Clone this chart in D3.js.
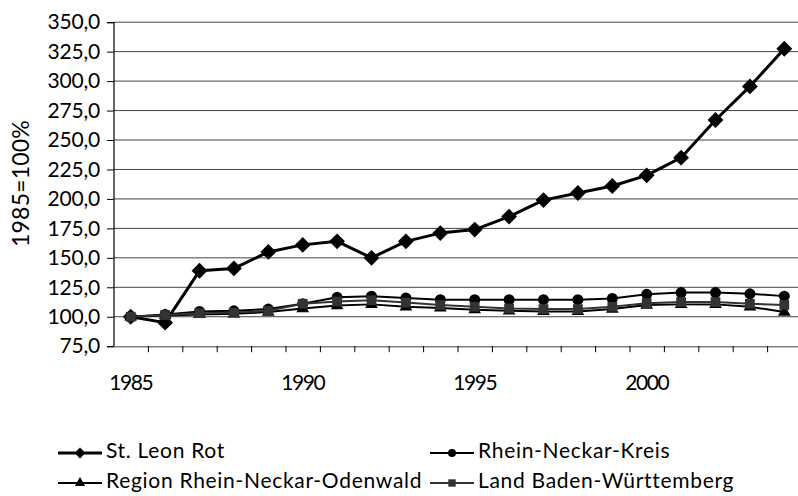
<!DOCTYPE html>
<html>
<head>
<meta charset="utf-8">
<script src="https://cdn.jsdelivr.net/npm/d3@7"></script>
<style>
  html, body { margin: 0; padding: 0; background: #fff; }
  svg { display: block; }
  text { font-family: Lato, "Open Sans", sans-serif; fill: #000; }
</style>
</head>
<body>
<svg id="chart" width="798" height="496"></svg>
<script>
// Population index, 1985 = 100 %
const years = ["1985","1986","1987","1988","1989","1990","1991","1992","1993","1994",
               "1995","1996","1997","1998","1999","2000","2001","2002","2003","2004"];
const stLeonRot        = [100, 95, 139, 141, 155, 161, 164, 150, 164, 171, 174, 185, 199, 205, 211, 220, 235, 267, 295.5, 327.5];
const rheinNeckarKreis = [100, 102, 104.5, 105, 106.5, 111, 116.5, 117.5, 116, 114.5, 114.5, 114.5, 114.5, 114.5, 115.5, 119, 120.5, 120.5, 119.5, 117.5];
const regionRNO        = [100, 101, 102, 102.5, 104, 107, 109.5, 110.5, 108.5, 107.5, 106, 105, 104.5, 104.5, 106.5, 110, 110.5, 110.5, 108.5, 104];
const landBW           = [100, 101.5, 103, 103.5, 105, 111, 113, 114, 112, 110, 108.5, 107, 106.5, 106.5, 108.5, 111.5, 112.5, 112.5, 111, 110];
const yTicks = [75, 100, 125, 150, 175, 200, 225, 250, 275, 300, 325, 350];
const xTickLabels = ["1985", "1990", "1995", "2000"];
const yTitle = "1985=100%";

const seriesList = [
  { name: "St. Leon Rot", values: stLeonRot, symbol: d3.symbolDiamond2, size: 160, lsize: 75, color: "#000", fill: "#000", width: 3 },
  { name: "Rhein-Neckar-Kreis", values: rheinNeckarKreis, symbol: d3.symbolCircle, size: 95, lsize: 50, color: "#000", fill: "#000", width: 2 },
  { name: "Region Rhein-Neckar-Odenwald", values: regionRNO, symbol: d3.symbolTriangle, size: 70, lsize: 45, color: "#000", fill: "#000", width: 2 },
  { name: "Land Baden-Württemberg", values: landBW, symbol: d3.symbolSquare, size: 95, lsize: 55, color: "#333", fill: "#333", width: 2 }
];

const svg = d3.select("#chart");
const fontSize = 21;

const x = d3.scaleBand().domain(years).range([113.5, 801.5]);
const xEdge = d3.scaleLinear().domain([0, years.length]).range([113.5, 801.5]);
const y = d3.scaleLinear().domain([75, 350]).range([346.2, 22.2]);
const fmt = d => d.toFixed(1).replace(".", ",");

// horizontal grid
svg.append("g")
  .selectAll("line")
  .data(yTicks.filter(t => t > 75))
  .join("line")
  .attr("x1", 113.5).attr("x2", 798)
  .attr("y1", d => y(d)).attr("y2", d => y(d))
  .attr("stroke", "#444").attr("stroke-width", 1);

// y axis
const yAxis = svg.append("g")
  .attr("transform", "translate(113.5,0)")
  .call(d3.axisLeft(y).tickValues(yTicks).tickFormat(fmt).tickSize(6.5).tickPadding(7));
yAxis.select(".domain").attr("stroke", "#000").attr("stroke-width", 1.2);
yAxis.selectAll(".tick line").attr("stroke", "#000");
yAxis.selectAll("text").attr("font-size", fontSize).attr("letter-spacing", -0.2).attr("font-family", null);

// x axis: tick marks between categories
const xAxis = svg.append("g")
  .attr("transform", `translate(0,${y(75)})`)
  .call(d3.axisBottom(xEdge).tickValues(d3.range(1, years.length)).tickFormat("").tickSize(6).tickSizeOuter(0));
xAxis.select(".domain").attr("stroke", "#808080").attr("stroke-width", 1.5);
xAxis.selectAll(".tick line").attr("stroke", "#000");

// x labels at category centres
const xLab = svg.append("g")
  .attr("transform", `translate(0,${y(75)})`)
  .call(d3.axisBottom(x).tickValues(xTickLabels).tickSize(0).tickPadding(28.5));
xLab.select(".domain").remove();
xLab.selectAll("text").attr("font-size", fontSize).attr("letter-spacing", -1.5).attr("font-family", null);

// y title
svg.append("text")
  .attr("transform", "translate(21,183.5) rotate(-90)")
  .attr("text-anchor", "middle")
  .attr("dy", "0.35em")
  .attr("font-size", 23)
  .attr("letter-spacing", 0.2)
  .text(yTitle);

// series lines and markers
const line = d3.line().x((d, i) => x(years[i]) + x.bandwidth() / 2).y(d => y(d));
seriesList.forEach(s => {
  const g = svg.append("g");
  g.append("path")
    .attr("d", line(s.values))
    .attr("fill", "none")
    .attr("stroke", s.color)
    .attr("stroke-width", s.width)
    .attr("stroke-linejoin", "round");
  g.selectAll("path.m")
    .data(s.values)
    .join("path")
    .attr("class", "m")
    .attr("transform", (d, i) => `translate(${x(years[i]) + x.bandwidth() / 2},${y(d)})`)
    .attr("d", d3.symbol().type(s.symbol).size(s.size))
    .attr("fill", s.fill);
});

// legend
const legendPos = [[58, 453], [430, 453], [58, 483], [430, 483]];
seriesList.forEach((s, i) => {
  const [lx, ly] = legendPos[i];
  const g = svg.append("g").attr("transform", `translate(${lx},${ly})`);
  g.append("line").attr("x1", 0).attr("x2", 44).attr("y1", 0).attr("y2", 0)
    .attr("stroke", s.color).attr("stroke-width", s.width);
  g.append("path").attr("transform", "translate(22,0)")
    .attr("d", d3.symbol().type(s.symbol).size(s.lsize)).attr("fill", s.fill);
  g.append("text").attr("x", 48).attr("y", 4.5)
    .attr("font-size", fontSize).attr("letter-spacing", 0.7)
    .text(s.name);
});
</script>
</body>
</html>
